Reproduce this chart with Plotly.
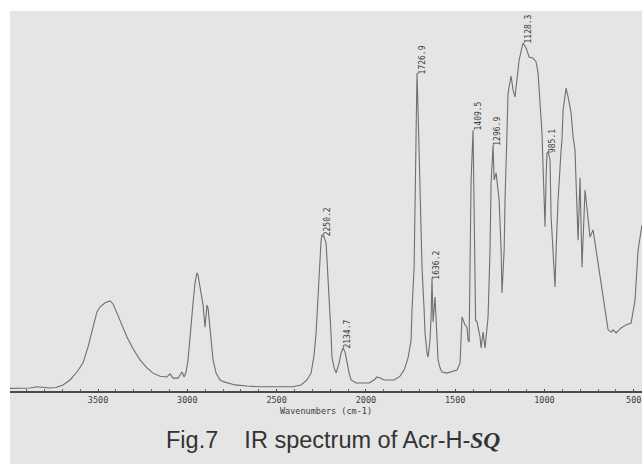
import plotly.graph_objects as go

# ---- data (wavenumber in cm-1, relative absorbance 0-100) ----
wavenumber = [3993, 3881, 3842, 3769, 3735, 3696, 3657, 3618, 3584, 3556, 3528, 3506, 3489, 3461,
              3433, 3416, 3394, 3366, 3338, 3304, 3265, 3226, 3192, 3153, 3114, 3097, 3080, 3052,
              3030, 3018, 3007, 2996, 2985, 2968, 2957, 2946, 2940, 2929, 2912, 2901, 2890, 2884,
              2873, 2856, 2839, 2817, 2794, 2733, 2666, 2593, 2475, 2408, 2363, 2330, 2307, 2290,
              2279, 2268, 2262, 2251, 2246, 2234, 2223, 2212, 2206, 2195, 2190, 2178, 2167, 2156,
              2150, 2139, 2128, 2117, 2106, 2094, 2083, 2055, 2027, 1982, 1954, 1938, 1921, 1898,
              1842, 1809, 1786, 1764, 1747, 1742, 1730, 1725, 1719, 1714, 1708, 1702, 1699, 1697,
              1691, 1686, 1674, 1669, 1658, 1652, 1641, 1635, 1630, 1624, 1613, 1607, 1602, 1596,
              1585, 1574, 1546, 1518, 1490, 1473, 1467, 1462, 1445, 1434, 1428, 1422, 1417, 1411,
              1400, 1394, 1389, 1386, 1378, 1361, 1355, 1344, 1333, 1316, 1305, 1299, 1288, 1282,
              1271, 1260, 1254, 1243, 1238, 1226, 1221, 1210, 1204, 1187, 1176, 1165, 1154, 1142,
              1126, 1120, 1103, 1086, 1064, 1047, 1036, 1025, 1014, 1008, 1002, 997, 991, 986,
              980, 969, 963, 952, 941, 935, 924, 907, 902, 896, 879, 868, 851, 840, 829, 823, 812,
              801, 795, 790, 773, 762, 745, 728, 717, 689, 661, 644, 627, 616, 599, 571, 543, 515,
              493, 476, 454]
intensity = [0.7, 0.8, 1.1, 0.8, 0.9, 1.6, 2.9, 5.0, 7.4, 11.6, 16.8, 20.8, 22.1, 23.2,
             23.7, 22.9, 20.5, 17.4, 14.2, 11.1, 8.2, 6.1, 4.7, 3.9, 3.7, 4.5, 3.4, 3.4,
             5.0, 3.7, 5.0, 8.2, 14.7, 23.2, 28.4, 31.1, 30.5, 27.4, 22.6, 16.8, 22.6, 21.8,
             16.1, 8.2, 4.7, 2.9, 2.4, 1.6, 1.3, 1.1, 1.1, 1.1, 1.6, 2.9, 4.7, 9.5,
             15.3, 25.3, 32.6, 39.7, 41.1, 40.5, 38.9, 30.5, 23.9, 14.7, 8.9, 6.1, 4.7, 6.1,
             7.4, 10.0, 11.3, 10.3, 7.4, 4.7, 2.9, 2.1, 2.1, 2.1, 2.9, 3.7, 3.4, 2.9,
             2.9, 3.9, 5.5, 8.7, 13.4, 21.3, 32.6, 50.3, 71.3, 83.7, 73.9, 63.4, 60.8, 50.3,
             39.7, 32.6, 21.3, 15.3, 10.0, 8.9, 13.4, 19.5, 29.7, 18.2, 24.7, 19.2, 15.3, 8.2,
             6.1, 5.0, 4.7, 5.0, 5.5, 7.4, 16.1, 19.5, 17.4, 16.8, 13.4, 12.9, 32.6, 55.5,
             68.7, 50.3, 37.1, 18.7, 18.2, 14.2, 11.3, 15.5, 11.3, 19.5, 37.1, 54.7, 64.7, 55.5,
             57.4, 53.7, 50.3, 37.1, 25.8, 37.1, 50.3, 67.9, 78.4, 82.9, 79.2, 77.4, 81.8, 87.1,
             90.5, 91.6, 90.3, 87.9, 87.6, 86.6, 83.7, 76.6, 67.9, 58.9, 50.3, 43.2, 56.3, 62.6,
             62.9, 60.8, 45.8, 34.5, 27.4, 37.1, 50.3, 63.4, 66.1, 73.9, 79.7, 77.4, 73.2, 66.8,
             63.4, 54.7, 39.7, 56.1, 45.8, 32.6, 52.9, 47.6, 40.5, 42.4, 38.9, 30.0, 20.5, 16.1,
             15.5, 16.1, 15.3, 16.6, 17.4, 17.9, 23.9, 37.1, 43.7]

peak_labels = ["2250.2", "2134.7", "1726.9", "1636.2", "1409.5", "1296.9", "1128.3", "985.1"]

x_tick_values = [3500, 3000, 2500, 2000, 1500, 1000, 500]
x_tick_labels = ["3500", "3000", "2500", "2000", "1500", "1000", "500"]
x_axis_title = "Wavenumbers (cm-1)"
caption_text = "Fig.7\u00a0\u00a0\u00a0\u00a0IR spectrum of Acr-H-"
caption_italic = "SQ"

# ---- figure ----
fig = go.Figure()
fig.add_trace(go.Scatter(
    x=wavenumber, y=intensity, mode="lines",
    line=dict(color="#6f6f6f", width=1.1),
    hoverinfo="skip", showlegend=False,
))

# peak labels, anchored on the local maximum near each labelled wavenumber
for lab in peak_labels:
    target = float(lab)
    idx = [i for i, w in enumerate(wavenumber) if abs(w - target) <= 20]
    best = max(idx, key=lambda i: intensity[i])
    fig.add_annotation(
        x=wavenumber[best], y=intensity[best], xref="x", yref="y",
        text=lab, showarrow=False, textangle=-90,
        xanchor="center", yanchor="bottom", xshift=5, yshift=-2, borderpad=0,
        font=dict(family="DejaVu Sans Mono", size=8, color="#3c3c3c"),
    )

# caption
fig.add_annotation(
    x=0.5, y=-0.129, xref="paper", yref="paper",
    text=caption_text + "<b><i><span style='font-family:Liberation Serif'>" + caption_italic + "</span></i></b>",
    showarrow=False, xanchor="center", yanchor="middle", xshift=7,
    font=dict(family="Liberation Sans Narrow, Arial Narrow, Liberation Sans", size=23.5, color="#333333"),
)

# gray panel behind plot and caption
fig.add_shape(type="rect", xref="paper", yref="paper", x0=0, x1=1, y0=-73 / 380, y1=1,
              fillcolor="#e5e5e5", line=dict(width=0), layer="below")

fig.update_layout(
    width=642, height=464,
    margin=dict(l=10, r=0, t=11, b=73),
    paper_bgcolor="white", plot_bgcolor="rgba(0,0,0,0)",
    xaxis=dict(
        range=[3993, 454], showgrid=False, zeroline=False,
        showline=True, linecolor="#4a4a4a", linewidth=2,
        ticks="inside", ticklen=2, tickcolor="#4a4a4a", tickwidth=1,
        tickvals=x_tick_values, ticktext=x_tick_labels,
        tickfont=dict(family="DejaVu Sans Mono", size=8.5, color="#3c3c3c"),
        minor=dict(dtick=100, ticks="inside", ticklen=2, tickcolor="#6a6a6a"),
        title=dict(text=x_axis_title, standoff=4,
                   font=dict(family="DejaVu Sans Mono", size=8.5, color="#3c3c3c")),
    ),
    yaxis=dict(range=[0, 100], visible=False),
)

fig.write_html("out.html")
